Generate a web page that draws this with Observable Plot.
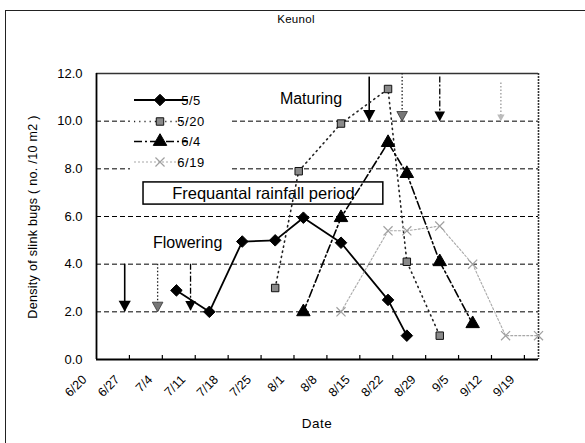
<!DOCTYPE html>
<html>
<head>
<meta charset="utf-8">
<script src="https://cdn.jsdelivr.net/npm/d3@7"></script>
<script src="https://cdn.jsdelivr.net/npm/@observablehq/plot@0.6"></script>
<style>
  html, body { margin: 0; padding: 0; background: #fff; }
  #wrap { position: relative; width: 585px; height: 443px; overflow: hidden; }
  #frame { position: absolute; left: 5px; top: 10px; width: 585px; height: 440px;
           border-top: 1.5px solid #222; border-left: 1.5px solid #222; pointer-events: none; }
</style>
</head>
<body>
<div id="wrap"><div id="frame"></div></div>
<script>
// ---------- data ----------
const title = "Keunol";
const seriesNames = ["5/5", "5/20", "6/4", "6/19"];

const dates55  = ["7/7", "7/14", "7/21", "7/28", "8/3", "8/11", "8/21", "8/25"];
const vals55   = [2.9, 2.0, 4.95, 5.0, 5.95, 4.9, 2.5, 1.0];

const dates520 = ["7/28", "8/2", "8/11", "8/21", "8/25", "9/1"];
const vals520  = [3.0, 7.9, 9.9, 11.35, 4.1, 1.0];

const dates64  = ["8/3", "8/11", "8/21", "8/25", "9/1", "9/8"];
const vals64   = [2.0, 5.95, 9.1, 7.8, 4.1, 1.5];

const dates619 = ["8/11", "8/21", "8/25", "9/1", "9/8", "9/15", "9/22"];
const vals619  = [2.0, 5.4, 5.4, 5.6, 4.0, 1.0, 1.0];

const tickLabels = ["6/20", "6/27", "7/4", "7/11", "7/18", "7/25", "8/1", "8/8",
                    "8/15", "8/22", "8/29", "9/5", "9/12", "9/19"];
const yTicks = [0, 2, 4, 6, 8, 10, 12];
const gridVals = [2, 4, 6, 8, 10];

// stage arrows: series, date, top value, tip value
const arrowSeries = ["5/5", "5/20", "6/4", "5/5", "5/20", "6/4", "6/19"];
const arrowDates  = ["6/26", "7/3", "7/10", "8/17", "8/24", "9/1", "9/14"];
const arrowFrom   = [4.0, 4.0, 4.0, 11.85, 12.0, 11.85, 11.6];
const arrowTo     = [2.0, 2.0, 2.05, 10.0, 10.0, 10.0, 10.0];

const stageLabels = ["Maturing", "Flowering"];
const stageDates  = ["7/29", "7/2"];
const stageVals   = [10.95, 4.88];

const boxLabel = "Frequantal rainfall period";
const boxDates = ["6/30", "8/20"];
const boxVals  = [6.5, 7.43];

const xDomain = ["6/20", "9/22"];

// ---------- helpers ----------
const parse = s => d3.utcParse("%Y/%m/%d")("2000/" + s);
const fmt = d3.utcFormat("%-m/%-d");

const styles = {
  "5/5":  {stroke: "#000", width: 1.8, dash: null, symbol: "diamond2", fill: "#000", r: 5.2, mstroke: "#000"},
  "5/20": {stroke: "#222", width: 1.6, dash: "1.2,4", symbol: "square", fill: "#8a8a8a", r: 4.2, mstroke: "#111"},
  "6/4":  {stroke: "#000", width: 1.6, dash: "8,3,2,3", symbol: "triangle", fill: "#000", r: 5.0, mstroke: "#000"},
  "6/19": {stroke: "#a8a8a8", width: 1.1, dash: "2,2", symbol: "times", fill: "none", r: 4.2, mstroke: "#a0a0a0"}
};

const seriesData = [
  ["5/5", dates55, vals55], ["5/20", dates520, vals520],
  ["6/4", dates64, vals64], ["6/19", dates619, vals619]
].map(([name, ds, vs]) => ({name, rows: ds.map((d, i) => ({date: parse(d), v: vs[i]}))}));

const arrows = arrowSeries.map((s, i) => ({s, date: parse(arrowDates[i]), from: arrowFrom[i], to: arrowTo[i]}));
const tickDates = tickLabels.map(parse);

const headSymbol = {
  draw(ctx, size) {
    const r = Math.sqrt(size / Math.PI);
    const w = r * 1.15, h = r * 2.1;
    ctx.moveTo(0, 0); ctx.lineTo(-w, -h); ctx.lineTo(w, -h); ctx.closePath();
  }
};

const marks = [];
// gridlines
marks.push(Plot.ruleY(gridVals, {stroke: "#000", strokeWidth: 1, strokeDasharray: "5,3"}));
// frame
marks.push(Plot.ruleY([12], {stroke: "#333", strokeWidth: 1.3}));
marks.push(Plot.ruleX([parse(xDomain[1])], {stroke: "#333", strokeWidth: 1.6, strokeDasharray: "2,1"}));
marks.push(Plot.ruleX([parse(xDomain[0])], {stroke: "#000", strokeWidth: 1.8}));
marks.push(Plot.ruleY([0], {stroke: "#000", strokeWidth: 1.8}));
// inward ticks
marks.push(Plot.ruleX(tickDates.slice(1), {x: d => d, y1: 0, y2: 0, insetTop: -4, stroke: "#000", strokeWidth: 1.2}));

// rainfall box
marks.push(Plot.rect([{x1: parse(boxDates[0]), x2: parse(boxDates[1]), y1: boxVals[0], y2: boxVals[1]}],
  {x1: "x1", x2: "x2", y1: "y1", y2: "y2", fill: "#fff", stroke: "#000", strokeWidth: 1.5}));
marks.push(Plot.text([boxLabel], {
  x: () => new Date((+parse(boxDates[0]) + +parse(boxDates[1])) / 2),
  y: () => (boxVals[0] + boxVals[1]) / 2,
  text: d => d, fontSize: 16.5, fill: "#000", textAnchor: "middle",
  style: "letter-spacing:0.7px"
}));
// stage labels
marks.push(Plot.text(stageLabels, {
  x: (d, i) => parse(stageDates[i]), y: (d, i) => stageVals[i], text: d => d,
  textAnchor: "start", fontSize: 16, fill: "#000", style: "letter-spacing:1.8px"
}));

// arrows
for (const s of seriesNames) {
  const st = styles[s];
  const a = arrows.filter(d => d.s === s);
  if (!a.length) continue;
  marks.push(Plot.ruleX(a, {x: "date", y1: "from", y2: "to", stroke: st.stroke === "#a8a8a8" ? "#999" : st.stroke,
    strokeWidth: s === "5/5" ? 1.6 : 1.3, strokeDasharray: s === "5/5" ? null : (s === "6/4" ? "6,2,2,2" : "1.5,2")}));
  marks.push(Plot.dot(a, {x: "date", y: "to", symbol: headSymbol,
    r: s === "5/5" ? 5.3 : (s === "6/19" ? 3.2 : 4.6),
    fill: s === "5/20" ? "#777" : (s === "6/19" ? "#bbb" : "#000"),
    stroke: s === "5/20" ? "#333" : "none", strokeWidth: 0.8}));
}

// series lines & markers
for (const {name, rows} of seriesData) {
  const st = styles[name];
  marks.push(Plot.line(rows, {x: "date", y: "v", stroke: st.stroke, strokeWidth: st.width, strokeDasharray: st.dash}));
}
for (const {name, rows} of seriesData) {
  const st = styles[name];
  marks.push(Plot.dot(rows, {x: "date", y: "v", symbol: st.symbol, r: st.r,
    fill: st.fill, stroke: st.mstroke, strokeWidth: name === "6/19" ? 1.2 : 1}));
}

// axes
marks.push(Plot.axisY({ticks: yTicks, tickFormat: d => d.toFixed(1), tickSize: 0, tickPadding: 14,
  fontSize: 13, label: null, style: "letter-spacing:1px"}));
marks.push(Plot.axisX({ticks: tickDates, tickFormat: fmt, tickSize: 0, tickRotate: -45, tickPadding: 18,
  dx: -12, fontSize: 12.5, label: null, style: "letter-spacing:0.4px"}));

const chart = Plot.plot({
  width: 585, height: 443,
  marginLeft: 96, marginRight: 47, marginTop: 73, marginBottom: 84,
  x: {type: "utc", domain: xDomain.map(parse)},
  y: {domain: [0, 12]},
  style: {fontFamily: "'Liberation Sans', Arial, sans-serif", background: "transparent", color: "#000"},
  marks
});

const svg = d3.select(chart);
// titles
svg.append("text").attr("x", 296).attr("y", 23).attr("text-anchor", "middle")
  .attr("font-size", 11.5).attr("fill", "#000").style("letter-spacing", "0.3px").text(title);
svg.append("text").attr("x", 317).attr("y", 428).attr("text-anchor", "middle")
  .attr("font-size", 13.5).attr("fill", "#000").style("letter-spacing", "0.5px").text("Date");
svg.append("text").attr("transform", "translate(37,217) rotate(-90)").attr("text-anchor", "middle")
  .attr("font-size", 12.5).attr("fill", "#000").style("letter-spacing", "0.3px")
  .text("Density of slink bugs ( no. /10 m2 )");

// legend
const lg = svg.append("g").attr("font-size", 13).attr("fill", "#000");
lg.append("rect").attr("x", 130).attr("y", 89).attr("width", 102).attr("height", 82).attr("fill", "#fff");
const rowY = [100, 121.5, 141.5, 162];
seriesNames.forEach((s, i) => {
  const st = styles[s];
  const y = rowY[i];
  lg.append("line").attr("x1", 134).attr("x2", 188).attr("y1", y).attr("y2", y)
    .attr("stroke", st.stroke).attr("stroke-width", st.width).attr("stroke-dasharray", st.dash);
  const symMap = {diamond2: d3.symbolDiamond2 || d3.symbolDiamond, square: d3.symbolSquare,
                  triangle: d3.symbolTriangle, times: d3.symbolTimes || d3.symbolCross};
  lg.append("path").attr("transform", `translate(160,${y})`)
    .attr("d", d3.symbol(symMap[st.symbol], Math.PI * st.r * st.r)())
    .attr("fill", st.fill).attr("stroke", st.mstroke).attr("stroke-width", s === "6/19" ? 1.2 : 1);
  lg.append("text").attr("x", 191).attr("y", y).attr("dy", "0.35em").style("letter-spacing", "0.5px").text(s);
});

document.getElementById("wrap").prepend(chart);
</script>
</body>
</html>
